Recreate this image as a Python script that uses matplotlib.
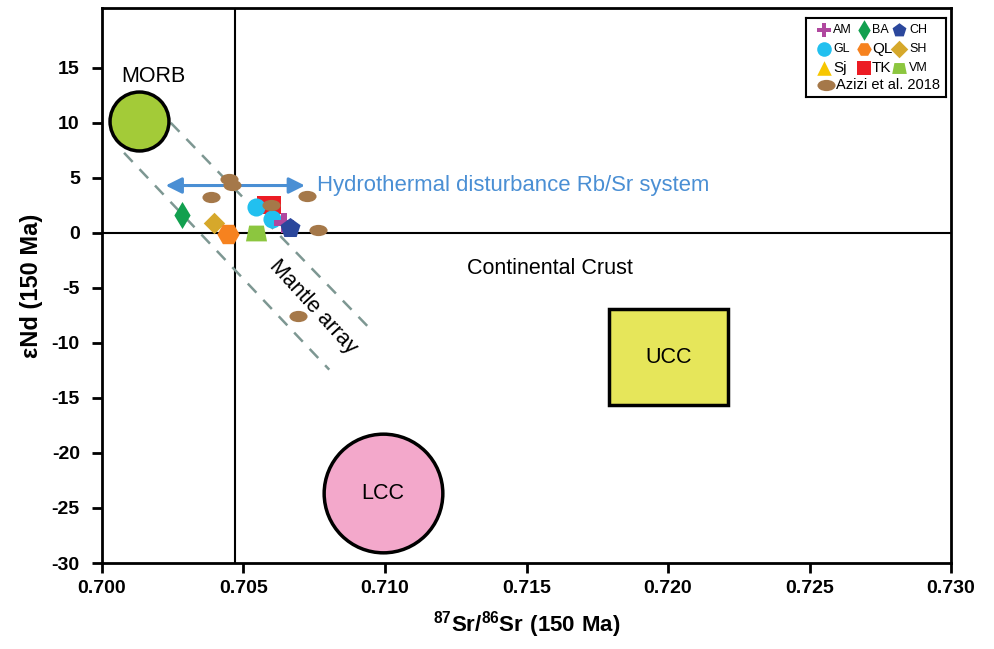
import matplotlib
matplotlib.use('Agg')
import matplotlib.pyplot as plt
import numpy as np
from matplotlib.path import Path
from matplotlib.patches import Rectangle
from matplotlib.transforms import Affine2D

plt.rcParams['font.family'] = ['Liberation Sans', 'DejaVu Sans']
plt.rcParams['mathtext.fontset'] = 'custom'
plt.rcParams['mathtext.rm'] = 'Liberation Sans:bold'
plt.rcParams['mathtext.bf'] = 'Liberation Sans:bold'

# data
am_x, am_y = [0.70644], [0.85]
ba_x, ba_y = [0.70284], [1.66]
ch_x, ch_y = [0.70665], [0.45]
gl_x, gl_y = [0.70543, 0.70600], [2.36, 1.27]
ql_x, ql_y = [0.70447], [-0.15]
sh_x, sh_y = [0.70396], [0.91]
sj_x, sj_y = [], []
tk_x, tk_y = [0.70591], [2.51]
vm_x, vm_y = [0.70543], [0.0]
azizi_x = [0.70449, 0.70461, 0.70384, 0.70596, 0.70723, 0.70764, 0.70694]
azizi_y = [4.85, 4.39, 3.27, 2.57, 3.39, 0.30, -7.58]

# reservoir fields
morb_xy = (0.70131, 10.15)
lcc_xy = (0.70992, -23.64)
ucc_x = [0.71792, 0.72211]
ucc_y = [-15.67, -6.88]

# mantle array bounds
mantle_up_x, mantle_up_y = [0.70243, 0.70956], [10.0, -8.95]
mantle_lo_x, mantle_lo_y = [0.70078, 0.70803], [7.27, -12.43]

# hydrothermal arrow
arrow_x = [0.70225, 0.70717]
arrow_y = 4.3

# reference lines
chur_sr = 0.7047
xticks = [0.700, 0.705, 0.710, 0.715, 0.720, 0.725, 0.730]
yticks = [15, 10, 5, 0, -5, -10, -15, -20, -25, -30]

# colours
C_AM = '#b0489f'
C_BA = '#12a04f'
C_CH = '#2b479c'
C_GL = '#22c0ef'
C_QL = '#f6821f'
C_SH = '#d6a82b'
C_SJ = '#f7c600'
C_TK = '#ec1c24'
C_VM = '#8cc63f'
C_AZ = '#a57849'

# custom markers
ellipse_m = Path.unit_circle().transformed(Affine2D().scale(1.0, 0.62))
rect_m = Path([(-1, -0.72), (1, -0.72), (1, 0.72), (-1, 0.72), (-1, -0.72)], closed=True)
trap_m = Path([(-1, -0.75), (1, -0.75), (0.7, 0.75), (-0.7, 0.75), (-1, -0.75)], closed=True)

fig = plt.figure(figsize=(9.95, 6.49), dpi=100)
ax = fig.add_axes([0.1025, 0.1325, 0.8533, 0.8555])
ax.set_xlim(0.700, 0.730)
ax.set_ylim(-30, 20.45)

# reference lines
ax.axvline(chur_sr, color='black', lw=1.5, zorder=1)
ax.axhline(0, color='black', lw=1.5, zorder=1)

# mantle array
ax.plot(mantle_up_x, mantle_up_y, color='#7d9792', lw=1.8, dashes=(5, 4), zorder=2)
ax.plot(mantle_lo_x, mantle_lo_y, color='#7d9792', lw=1.8, dashes=(5, 4), zorder=2)

# reservoirs
ax.scatter([morb_xy[0]], [morb_xy[1]], s=1800, c='#a3cb38', edgecolors='black', linewidths=2.5, zorder=3)
ax.scatter([lcc_xy[0]], [lcc_xy[1]], s=7300, c='#f3a8cb', edgecolors='black', linewidths=2.5, zorder=3)
ax.add_patch(Rectangle((ucc_x[0], ucc_y[0]), ucc_x[1] - ucc_x[0], ucc_y[1] - ucc_y[0],
                       facecolor='#e6e65a', edgecolor='black', lw=2.5, zorder=3))

# arrow + labels
ax.annotate('', xy=(arrow_x[0], arrow_y), xytext=(arrow_x[1], arrow_y),
            arrowprops=dict(arrowstyle='<|-|>', color='#4a8fd4', lw=2.2, mutation_scale=24, shrinkA=0, shrinkB=0),
            zorder=4)
ax.text(0.70761, arrow_y, 'Hydrothermal disturbance Rb/Sr system', color='#4a8fd4', fontsize=15.9,
        ha='left', va='center')
ax.text(0.70180, 14.2, 'MORB', fontsize=15.5, ha='center', va='center')
ax.text(0.71582, -3.2, 'Continental Crust', fontsize=15.5, ha='center', va='center')
ax.text(0.70745, -6.75, 'Mantle array', fontsize=15.5, ha='center', va='center', rotation=-47.5,
        rotation_mode='anchor')
ax.text(0.72001, -11.3, 'UCC', fontsize=15.5, ha='center', va='center', zorder=5)
ax.text(lcc_xy[0], lcc_xy[1], 'LCC', fontsize=15.5, ha='center', va='center', zorder=5)

# samples
ax.scatter(tk_x, tk_y, marker=rect_m, s=300, c=C_TK, linewidths=0, zorder=5)
ax.scatter(gl_x, gl_y, marker='o', s=170, c=C_GL, linewidths=0, zorder=5)
ax.scatter(am_x, am_y, marker='P', s=200, c=C_AM, linewidths=0, zorder=5)
ax.scatter(ch_x, ch_y, marker='p', s=230, c=C_CH, linewidths=0, zorder=6)
ax.scatter(ba_x, ba_y, marker='d', s=190, c=C_BA, linewidths=0, zorder=5)
ax.scatter(sh_x, sh_y, marker='D', s=120, c=C_SH, linewidths=0, zorder=5)
ax.scatter(ql_x, ql_y, marker='H', s=260, c=C_QL, linewidths=0, zorder=5)
ax.scatter(vm_x, vm_y, marker=trap_m, s=230, c=C_VM, linewidths=0, zorder=5)
ax.scatter(sj_x, sj_y, marker='^', s=200, c=C_SJ, linewidths=0, zorder=5)
ax.scatter(azizi_x, azizi_y, marker=ellipse_m, s=170, c=C_AZ, linewidths=0, zorder=7)

# axes styling
for sp in ax.spines.values():
    sp.set_linewidth(2)
ax.set_xticks(xticks)
ax.set_yticks(yticks)
ax.tick_params(direction='out', length=7, width=2)
ax.tick_params(axis='y', pad=9)
ax.tick_params(axis='x', pad=5)
ax.set_xticklabels([f'{v:.3f}' for v in xticks], fontsize=14, fontweight='bold')
ax.set_yticklabels([str(v) for v in yticks], fontsize=14, fontweight='bold')
ax.set_xlabel(r'$^{87}\mathrm{Sr/}^{86}\mathrm{Sr\ (150\ Ma)}$', fontsize=16, labelpad=9)
ax.set_ylabel('εNd (150 Ma)', fontsize=17, fontweight='bold', labelpad=6)

# legend box
lax = fig.add_axes([0.810, 0.8505, 0.1407, 0.1217])
lax.set_xlim(0, 140)
lax.set_ylim(79, 0)
lax.set_xticks([])
lax.set_yticks([])
for sp in lax.spines.values():
    sp.set_linewidth(1.5)

leg_rows = [12, 31, 50, 67]
leg_mx = [18, 58, 93]
leg_tx = [27, 66, 103]
leg_items = [
    ('AM', 'P', C_AM, 9), ('BA', 'd', C_BA, 9), ('CH', 'p', C_CH, 9),
    ('GL', 'o', C_GL, 9), ('QL', 'H', C_QL, 11), ('SH', 'D', C_SH, 9),
    ('Sj', '^', C_SJ, 11), ('TK', 's', C_TK, 11), ('VM', trap_m, C_VM, 9),
]
for i, (lab, mk, col, fs) in enumerate(leg_items):
    r, c = divmod(i, 3)
    sz = 80 if mk == 'D' else 110
    lax.scatter([leg_mx[c]], [leg_rows[r]], marker=mk, s=sz, c=col, linewidths=0)
    lax.text(leg_tx[c], leg_rows[r], lab, fontsize=fs, ha='left', va='center')
lax.scatter([20], [leg_rows[3]], marker=ellipse_m, s=170, c=C_AZ, linewidths=0)
lax.text(30, leg_rows[3], 'Azizi et al. 2018', fontsize=10.5, ha='left', va='center')

fig.savefig('out.png', dpi=100)
